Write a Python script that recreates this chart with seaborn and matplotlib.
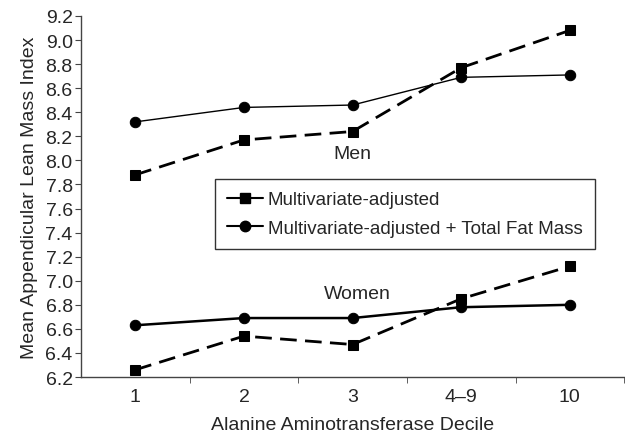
import pandas as pd
import matplotlib
matplotlib.use("Agg")
import matplotlib.pyplot as plt
from matplotlib.lines import Line2D
from matplotlib.ticker import FixedLocator, MultipleLocator
import seaborn as sns

# data
deciles = ["1", "2", "3", "4\u20139", "10"]
men_adj = [7.88, 8.17, 8.24, 8.77, 9.08]
men_adj_fat = [8.32, 8.44, 8.46, 8.69, 8.71]
women_adj = [6.26, 6.54, 6.47, 6.85, 7.12]
women_adj_fat = [6.63, 6.69, 6.69, 6.78, 6.80]

sns.set_style("ticks")
plt.rcParams['font.family'] = ['Liberation Sans', 'DejaVu Sans']

pos = list(range(len(deciles)))
df = pd.DataFrame({
    'pos': pos * 4,
    'value': men_adj + men_adj_fat + women_adj + women_adj_fat,
    'series': ['men_adj'] * 5 + ['men_fat'] * 5 + ['women_adj'] * 5 + ['women_fat'] * 5,
})

fig = plt.figure(figsize=(6.25, 4.35), dpi=100)
ax = fig.add_axes([0.1296, 0.131, 0.869, 0.830])

styles = {
    'men_adj': dict(ls=(0, (6, 3)), lw=2.0, marker='s', ms=7.5),
    'men_fat': dict(ls='-', lw=1.0, marker='o', ms=7.5),
    'women_adj': dict(ls=(0, (6, 3)), lw=2.0, marker='s', ms=7.5),
    'women_fat': dict(ls='-', lw=1.8, marker='o', ms=7.5),
}
for name, st in styles.items():
    sub = df[df['series'] == name]
    sns.lineplot(data=sub, x='pos', y='value', ax=ax, color='black',
                 linestyle=st['ls'], linewidth=st['lw'], marker=st['marker'],
                 markersize=st['ms'], markeredgecolor='black', legend=False)

ax.set_xlim(-0.5, len(deciles) - 0.5)
ax.set_ylim(6.2, 9.2)
ax.yaxis.set_major_locator(MultipleLocator(0.2))
ax.set_yticklabels([f"{v:.1f}" for v in ax.get_yticks()])
ax.set_xticks(pos)
ax.set_xticklabels(deciles)
ax.xaxis.set_minor_locator(FixedLocator([p + 0.5 for p in pos]))
ax.tick_params(axis='x', which='major', length=0, labelsize=14, pad=8)
ax.tick_params(axis='x', which='minor', length=4, color='#444444')
ax.tick_params(axis='y', length=4, labelsize=14, pad=2, color='#444444')

sns.despine(ax=ax)
for sp in ['left', 'bottom']:
    ax.spines[sp].set_color('#444444')
    ax.spines[sp].set_linewidth(1.0)

ax.set_xlabel('Alanine Aminotransferase Decile', fontsize=14, labelpad=8)
ax.set_ylabel('Mean Appendicular Lean Mass Index', fontsize=14, labelpad=5)

ax.text(2, 8.06, 'Men', ha='center', va='center', fontsize=14)
ax.text(2.04, 6.89, 'Women', ha='center', va='center', fontsize=14)

handles = [
    Line2D([], [], color='black', lw=1.5, marker='s', ms=7.5),
    Line2D([], [], color='black', lw=1.5, marker='o', ms=7.5),
]
leg = ax.legend(handles, ['Multivariate-adjusted', 'Multivariate-adjusted + Total Fat Mass'],
                loc='upper left', bbox_to_anchor=(0.247, 0.548), frameon=True,
                fancybox=False, edgecolor='black', fontsize=13.5, handlelength=1.9,
                handletextpad=0.25, borderpad=0.65, labelspacing=0.6,
                borderaxespad=0)
leg.get_frame().set_linewidth(1.0)

fig.savefig('out.png', dpi=100)
